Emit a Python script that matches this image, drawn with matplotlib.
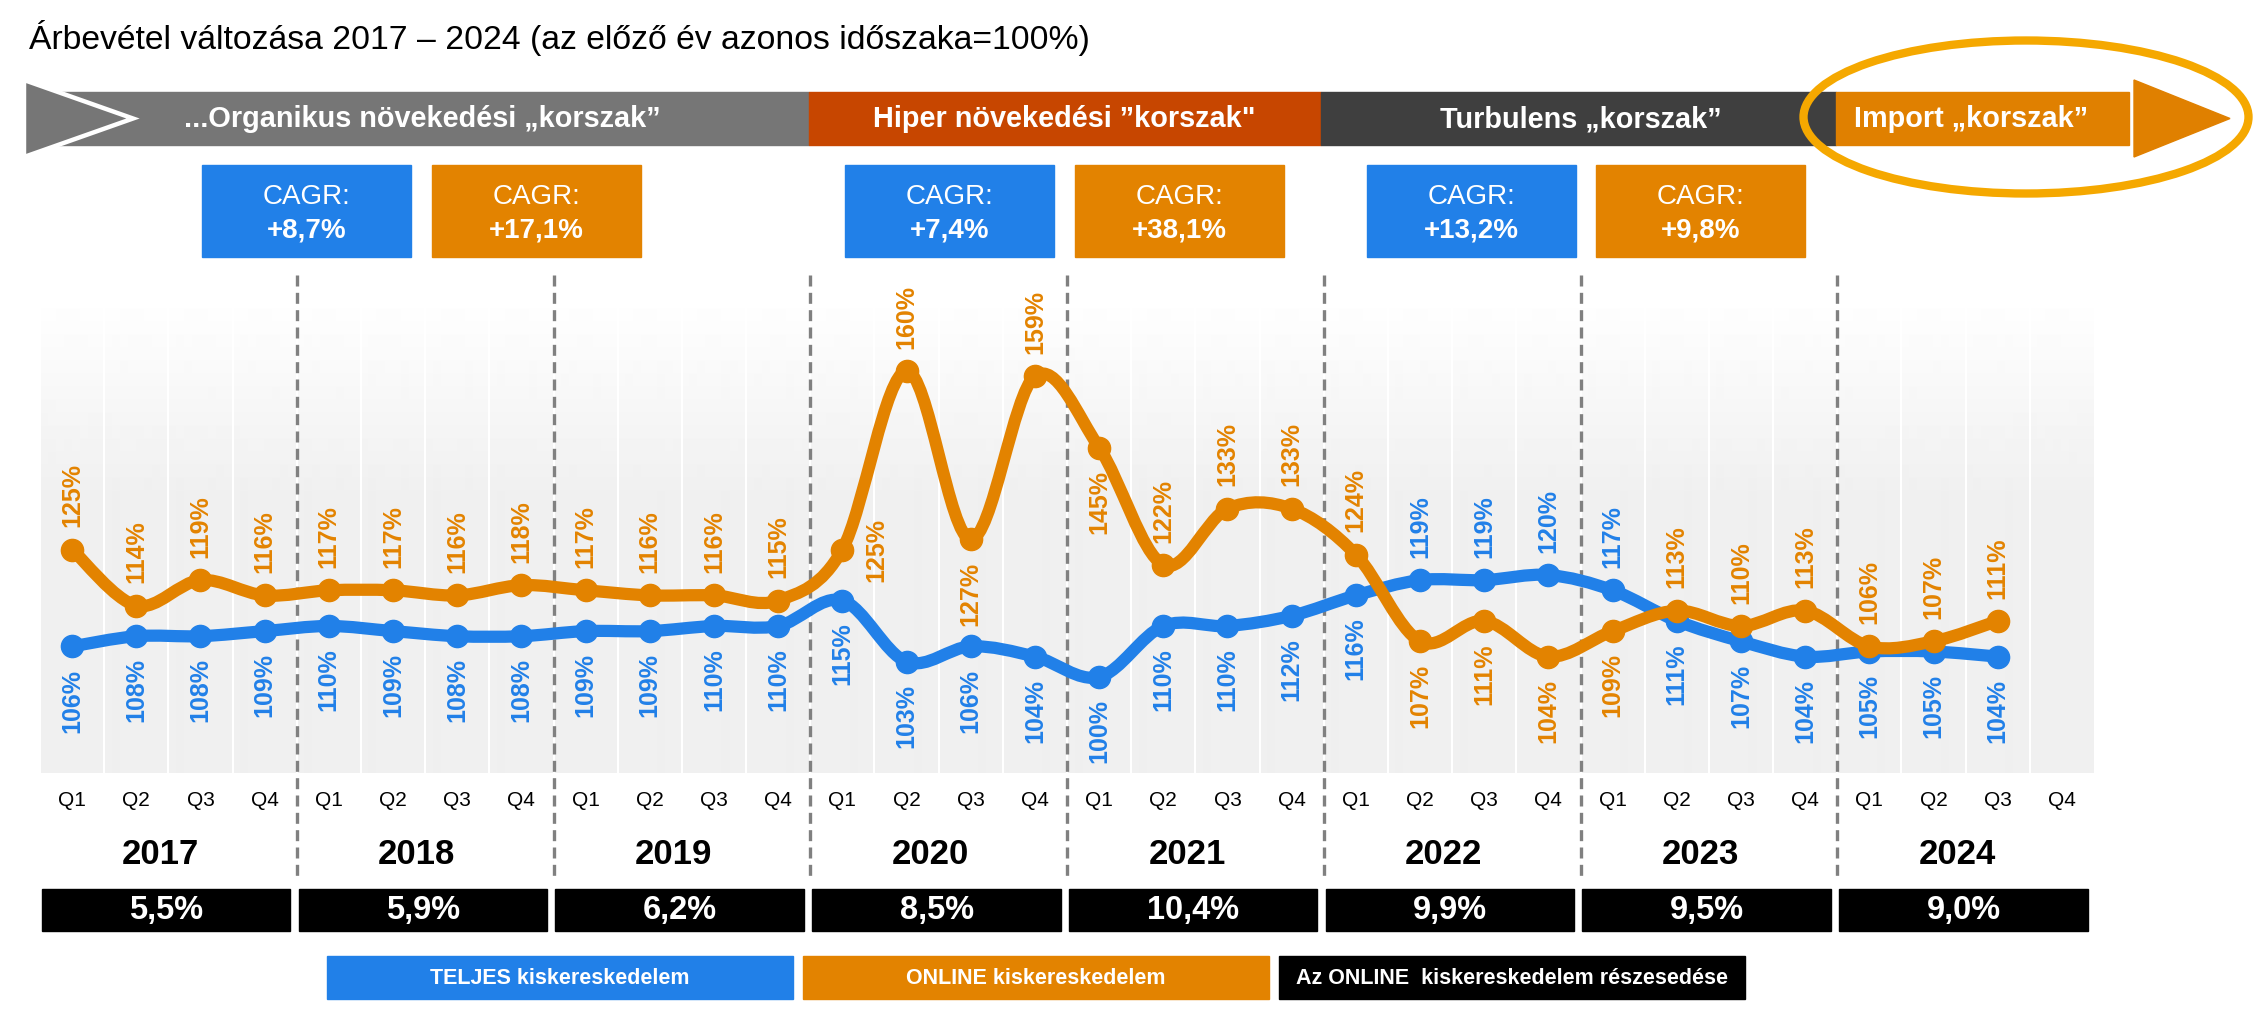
import numpy as np
import matplotlib
matplotlib.use('Agg')
import matplotlib.pyplot as plt
from matplotlib.path import Path
from matplotlib.patches import PathPatch, Rectangle, Polygon, Ellipse
from matplotlib import transforms

plt.rcParams['font.family'] = ['Liberation Sans', 'DejaVu Sans']

# --- adatok ---
years = ['2017', '2018', '2019', '2020', '2021', '2022', '2023', '2024']
quarters = ['Q1', 'Q2', 'Q3', 'Q4']
teljes = [106, 108, 108, 109, 110, 109, 108, 108, 109, 109, 110, 110,
          115, 103, 106, 104, 100, 110, 110, 112, 116, 119, 119, 120,
          117, 111, 107, 104, 105, 105, 104]
online = [125, 114, 119, 116, 117, 117, 116, 118, 117, 116, 116, 115,
          125, 160, 127, 159, 145, 122, 133, 133, 124, 107, 111, 104,
          109, 113, 110, 113, 106, 107, 111]
online_share = ['5,5%', '5,9%', '6,2%', '8,5%', '10,4%', '9,9%', '9,5%', '9,0%']
cagr_values = ['+8,7%', '+17,1%', '+7,4%', '+38,1%', '+13,2%', '+9,8%']
periods = ['...Organikus növekedési „korszak”', 'Hiper növekedési ”korszak"',
           'Turbulens „korszak”', 'Import „korszak”']
legend_labels = ['TELJES kiskereskedelem', 'ONLINE kiskereskedelem',
                 'Az ONLINE  kiskereskedelem részesedése']
title = 'Árbevétel változása 2017 – 2024 (az előző év azonos időszaka=100%)'

# címke elhelyezés (melyik pont címkéje kerül máshova)
teljes_above = {21, 22, 23, 24}
online_below = {14, 16, 21, 22, 23, 24}
online_right = {12}

BLUE = '#2180E8'
ORANGE = '#E38300'
GRAY = '#767676'
HIPER = '#C74600'
TURB = '#3F3F3F'
IMPORT = '#E08000'
RING = '#F5A800'

W, H = 2260, 1014
fig = plt.figure(figsize=(W / 100, H / 100), dpi=100)

# overlay pixelkoordinátákban
ov = fig.add_axes([0, 0, 1, 1])
ov.set_xlim(0, W)
ov.set_ylim(H, 0)
ov.axis('off')
ov.set_zorder(0)

# diagram terület
x0, x1, ytop, ybot = 40, 2094, 295, 773
ax = fig.add_axes([x0 / W, (H - ybot) / H, (x1 - x0) / W, (ybot - ytop) / H])
ax.set_zorder(1)
ax.patch.set_visible(False)
ylo = 100 - (ybot - 677) / 5.1
yhi = 100 + (677 - ytop) / 5.1
ax.set_xlim(-0.5, 31.5)
ax.set_ylim(ylo, yhi)
for s in ax.spines.values():
    s.set_visible(False)
ax.set_yticks([])

bt = transforms.blended_transform_factory(ax.transData, ov.transData)

# háttér színátmenet
n = ybot - ytop
grad = 1 - 0.06 * np.clip(np.arange(n) / 200, 0, 1)
ax.imshow(grad.reshape(-1, 1), extent=(-0.5, 31.5, ylo, yhi), aspect='auto',
          cmap='gray', vmin=0, vmax=1, zorder=0, interpolation='bilinear')
ax.vlines(np.arange(32) - 0.5, ylo, yhi, color='white', lw=1.5, zorder=1)

# éves szaggatott vonalak
for k in range(1, 8):
    ax.plot([4 * k - 0.5] * 2, [275, 878], transform=bt, color='#808080',
            lw=2.4, dashes=(3.3, 1.9), clip_on=False, zorder=2)


def smooth_path(xs, ys):
    pts = np.column_stack([xs, ys]).astype(float)
    verts = [pts[0]]
    codes = [Path.MOVETO]
    m = len(pts)
    for i in range(m - 1):
        p0 = pts[i - 1] if i > 0 else pts[i]
        p1 = pts[i]
        p2 = pts[i + 1]
        p3 = pts[i + 2] if i + 2 < m else pts[i + 1]
        verts += [p1 + (p2 - p0) / 6, p2 - (p3 - p1) / 6, p2]
        codes += [Path.CURVE4] * 3
    return Path(verts, codes)


xs = np.arange(len(teljes))
for vals, col, z in [(teljes, BLUE, 3), (online, ORANGE, 4)]:
    ax.add_patch(PathPatch(smooth_path(xs, vals), fill=False, edgecolor=col,
                           lw=8.8, capstyle='round', joinstyle='round', zorder=z))
    ax.plot(xs, vals, 'o', ms=16, color=col, zorder=z, clip_on=False)

lab = dict(rotation=90, fontsize=18, fontweight='bold',
           textcoords='offset points', zorder=6, annotation_clip=False)
for i, v in enumerate(teljes):
    if i in teljes_above:
        ax.annotate(f'{v}%', (i, v), xytext=(0, 16), ha='center', va='bottom', color=BLUE, **lab)
    else:
        ax.annotate(f'{v}%', (i, v), xytext=(0, -16), ha='center', va='top', color=BLUE, **lab)
for i, v in enumerate(online):
    if i in online_right:
        ax.annotate(f'{v}%', (i, v), xytext=(16, 0), ha='left', va='center', color=ORANGE, **lab)
    elif i in online_below:
        ax.annotate(f'{v}%', (i, v), xytext=(0, -16), ha='center', va='top', color=ORANGE, **lab)
    else:
        ax.annotate(f'{v}%', (i, v), xytext=(0, 16), ha='center', va='bottom', color=ORANGE, **lab)

# negyedév tengely
ax.set_xticks(np.arange(32))
ax.set_xticklabels(quarters * len(years))
ax.tick_params(axis='x', length=0, pad=13, labelsize=15)

# évek és online részesedés
for k, (yr, sh) in enumerate(zip(years, online_share)):
    ax.text(4 * k + 1.5 - 0.13, 855, yr, transform=bt, ha='center', va='center',
            fontsize=25, fontweight='bold')
    ax.add_patch(Rectangle((4 * k - 0.47, 889), 3.87, 42, transform=bt,
                           color='black', clip_on=False))
    ax.text(4 * k + 1.47, 911, sh, transform=bt, ha='center', va='center',
            fontsize=23.5, fontweight='bold', color='white')

# cím
ov.text(29, 49, title, fontsize=24.3, ha='left', va='baseline')

# korszak sáv
ov.add_patch(Rectangle((40, 92), 769, 53, color=GRAY))
ov.add_patch(Polygon([(24, 80), (24, 157), (133, 118.5)], closed=True,
                     facecolor=GRAY, edgecolor='white', lw=3.2, joinstyle='miter'))
ov.add_patch(Rectangle((809, 92), 512, 53, color=HIPER))
ov.add_patch(Rectangle((1321, 92), 515, 53, color=TURB))
ov.add_patch(Rectangle((1836, 92), 293, 53, color=IMPORT))
ov.add_patch(Polygon([(2134, 80), (2134, 157), (2230, 118.5)], closed=True, color=IMPORT))
for cx, txt in zip([422, 1064, 1581, 1971], periods):
    ov.text(cx, 119, txt, ha='center', va='center', fontsize=20.8,
            fontweight='bold', color='white')
ov.add_patch(Ellipse((2026, 117), 445, 153, fill=False, edgecolor=RING, lw=6))

# CAGR dobozok
for j, (bx, val) in enumerate(zip([202, 432, 845, 1075, 1367, 1596], cagr_values)):
    col = BLUE if j % 2 == 0 else ORANGE
    ov.add_patch(Rectangle((bx, 165), 209, 92, color=col))
    ov.text(bx + 104.5, 197, 'CAGR:', ha='center', va='center', fontsize=20, color='white')
    ov.text(bx + 104.5, 231, val, ha='center', va='center', fontsize=20,
            fontweight='bold', color='white')

# jelmagyarázat
for lx, col, txt in zip([327, 803, 1279], [BLUE, ORANGE, 'black'], legend_labels):
    ov.add_patch(Rectangle((lx, 956), 466, 43, color=col))
    ov.text(lx + 233, 978, txt, ha='center', va='center', fontsize=15.5,
            fontweight='bold', color='white')

fig.savefig('out.png', dpi=100)
